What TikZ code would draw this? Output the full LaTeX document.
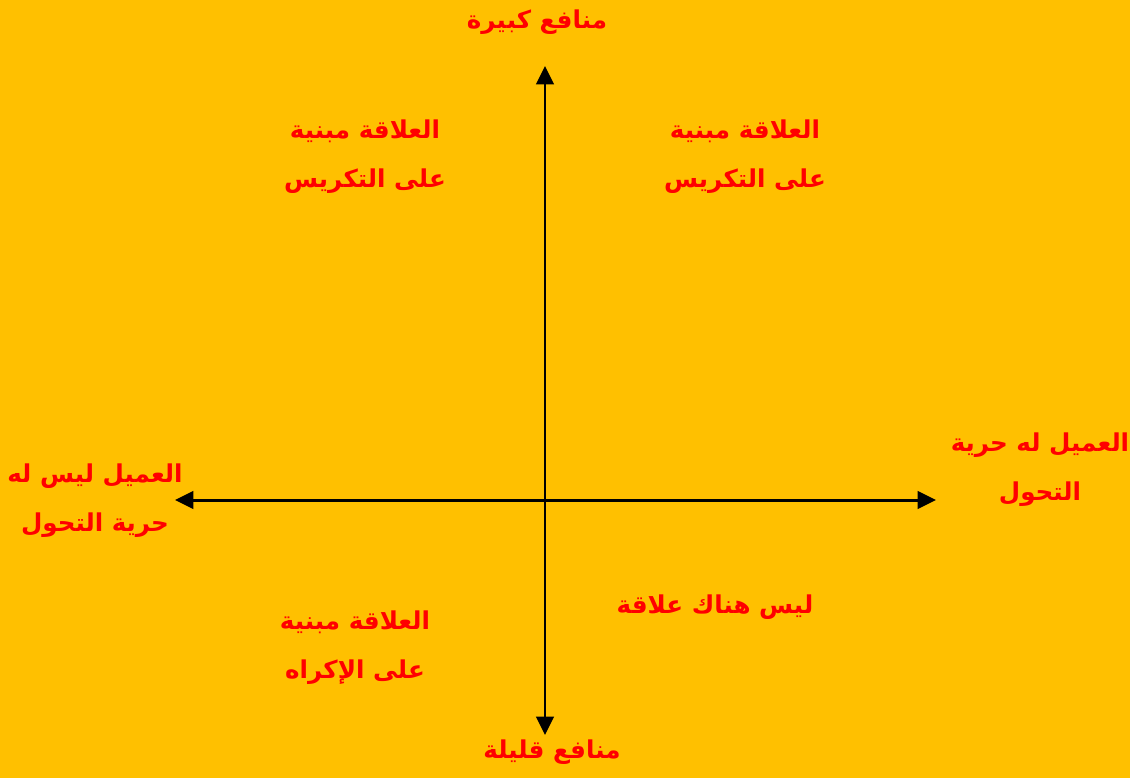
\documentclass[tikz,border=0pt]{standalone}
\usepackage{fontspec}
\newfontfamily\arabicfont[Script=Arabic]{DejaVu Sans}
\TeXXeTstate=1
\usetikzlibrary{arrows.meta}

\definecolor{fundo}{HTML}{FFC000}

\tikzset{
  rotulo/.style={text=red, align=center, inner sep=0pt,
    font=\arabicfont\bfseries\fontsize{14}{27.8}\selectfont},
  eixo/.style={line width=1.7pt,
    {Triangle[length=10.5pt,width=10pt]}-{Triangle[length=10.5pt,width=10pt]}}
}

\newcommand{\ar}[1]{\beginR #1\endR}

\begin{document}
\begin{tikzpicture}[x=0.02cm,y=-0.02cm]

% Fundo
\fill[fundo] (0,0) rectangle (1130,778);
\useasboundingbox (0,0) rectangle (1130,778);

% Pontas dos eixos
\coordinate (topo) at (545,66);
\coordinate (base) at (545,735);
\coordinate (esq) at (175,500);
\coordinate (dir) at (936,500);

% Eixos
\draw[eixo] (base) -- (topo);
\draw[eixo] (esq) -- (dir);

% Rotulos dos eixos
\node[rotulo] (kabira) at (537,22) {\ar{منافع كبيرة}};
\node[rotulo] (qalila) at (552,752) {\ar{منافع قليلة}};
\node[rotulo] (laysa) at (95,501) {\ar{العميل ليس له}\\\ar{حرية التحول}};
\node[rotulo] (lahu) at (1040,470) {\ar{العميل له حرية}\\\ar{التحول}};

% Quadrantes
\node[rotulo] (q1) at (365,157) {\ar{العلاقة مبنية}\\\ar{على التكريس}};
\node[rotulo] (q2) at (745,157) {\ar{العلاقة مبنية}\\\ar{على التكريس}};
\node[rotulo] (q3) at (355,648) {\ar{العلاقة مبنية}\\\ar{على الإكراه}};
\node[rotulo] (q4) at (715,607) {\ar{ليس هناك علاقة}};

\end{tikzpicture}
\end{document}
